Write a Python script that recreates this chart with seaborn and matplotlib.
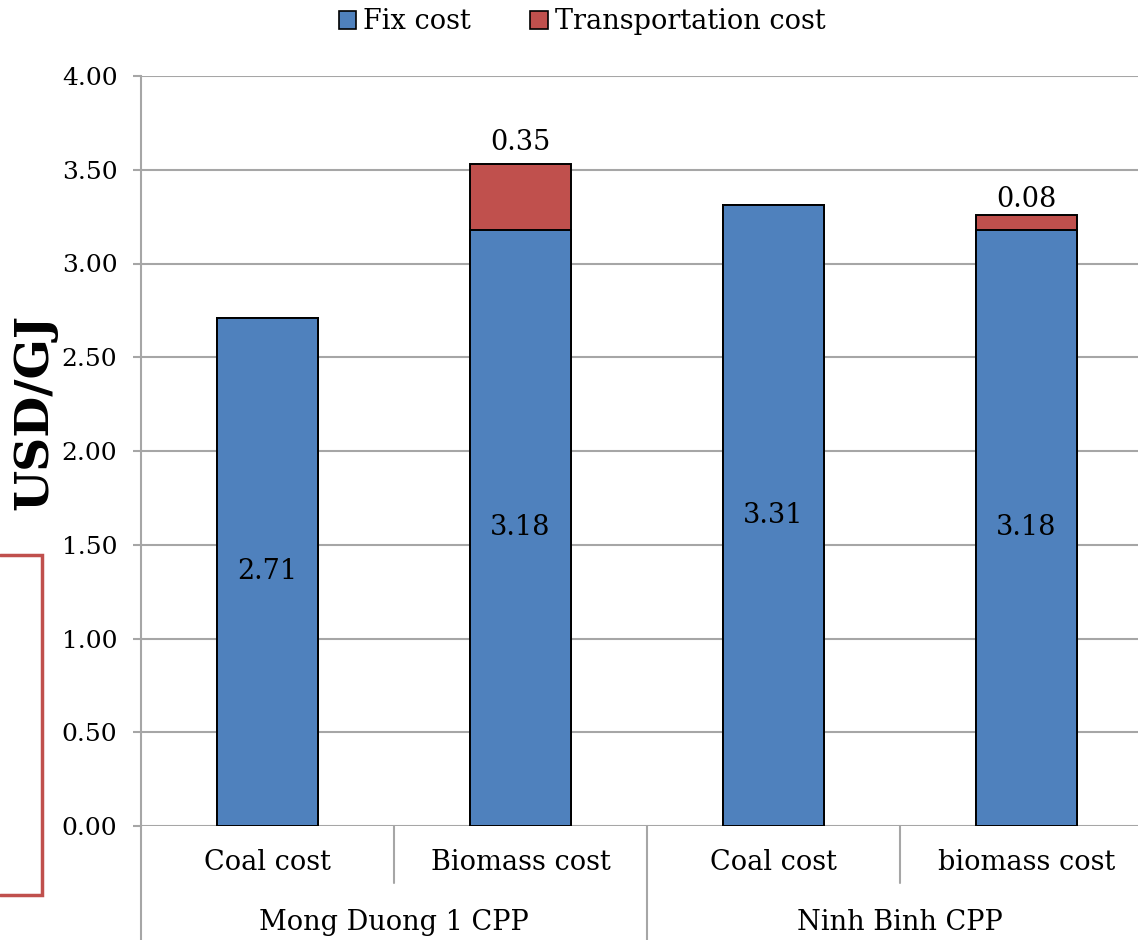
import matplotlib
matplotlib.use("Agg")
import matplotlib.pyplot as plt
from matplotlib.lines import Line2D
import pandas as pd
import seaborn as sns

# Cost breakdown per power plant and fuel (USD/GJ)
plants = ["Mong Duong 1 CPP", "Mong Duong 1 CPP", "Ninh Binh CPP", "Ninh Binh CPP"]
fuels = ["Coal cost", "Biomass cost", "Coal cost", "biomass cost"]
fix_cost = [2.71, 3.18, 3.31, 3.18]
transport_cost = [0.0, 0.35, 0.0, 0.08]
y_ticks = [0.0, 0.5, 1.0, 1.5, 2.0, 2.5, 3.0, 3.5, 4.0]

BLUE = "#4F81BD"
RED = "#C0504D"
GRID = "#A6A6A6"
FONT = "DejaVu Serif"

sns.set_theme(style="white")
plt.rcParams["font.family"] = [FONT]
plt.rcParams["text.color"] = "black"

df = pd.DataFrame({
    "bar": [f"{p} / {f}" for p, f in zip(plants, fuels)],
    "plant": plants,
    "fuel": fuels,
    "fix": fix_cost,
    "transport": transport_cost,
})
df["total"] = df["fix"] + df["transport"]

fig = plt.figure(figsize=(11.38, 9.40), dpi=100)
ax = fig.add_axes([141 / 1138, 114 / 940, 1012 / 1138, 750 / 940])

# Stacked bars: the full height in red, the fixed part drawn over it in blue
sns.barplot(data=df, x="bar", y="total", color=RED, width=0.4, saturation=1,
            edgecolor="black", linewidth=1.4, errorbar=None, ax=ax, zorder=3)
sns.barplot(data=df, x="bar", y="fix", color=BLUE, width=0.4, saturation=1,
            edgecolor="black", linewidth=1.4, errorbar=None, ax=ax, zorder=4)

ax.set_xlim(-0.5, 3.5)
ax.set_ylim(0, 4.0)
ax.set_yticks(y_ticks)
ax.set_yticklabels([f"{v:.2f}" for v in y_ticks], fontsize=18, color="black")
ax.set_xticks([])
ax.set_xlabel("")
ax.set_ylabel("")
ax.yaxis.grid(True, color=GRID, linewidth=1.5)
ax.set_axisbelow(True)
ax.tick_params(axis="y", length=6, width=1.5, color=GRID, pad=11, left=True)
for side in ["top", "right", "bottom"]:
    ax.spines[side].set_visible(False)
ax.spines["left"].set_color(GRID)
ax.spines["left"].set_linewidth(1.5)

# Value labels
label_pad = [0, 6, 0, 1]  # points above the bar top for the transport labels
for i, row in df.iterrows():
    ax.text(i, row["fix"] / 2, f"{row['fix']:.2f}", ha="center", va="center",
            fontsize=19.5, color="black", zorder=6)
    if row["transport"] > 0:
        ax.annotate(f"{row['transport']:.2f}", (i, row["total"]),
                    xytext=(0, label_pad[i]), textcoords="offset points",
                    ha="center", va="bottom", fontsize=19.5, color="black", zorder=6)

# Two-level category axis
trans = ax.get_xaxis_transform()
px = 1 / 750  # one pixel in axes-height units
short_sep = -57 * px
long_sep = -114 * px
seps = [(-0.5, long_sep), (0.5, short_sep), (1.5, long_sep), (2.5, short_sep)]
for xs, yb in seps:
    ax.add_line(Line2D([xs, xs], [0, yb], transform=trans, color=GRID,
                       linewidth=1.5, clip_on=False))

for i, f in enumerate(fuels):
    ax.text(i, -37 * px, f, transform=trans, ha="center", va="center",
            fontsize=19.5, color="black")

group_names = list(dict.fromkeys(plants))
for g in group_names:
    idx = [i for i, p in enumerate(plants) if p == g]
    ax.text(sum(idx) / len(idx), -97 * px, g, transform=trans, ha="center",
            va="center", fontsize=19.5, color="black")

# Axis title
fig.text(34 / 1138, 1 - 412 / 940, "USD/GJ", rotation=90, ha="center", va="center",
         fontsize=34, fontweight="bold", color="black")

# Legend
handles = [plt.Rectangle((0, 0), 1, 1, facecolor=BLUE, edgecolor="black", linewidth=1.2),
           plt.Rectangle((0, 0), 1, 1, facecolor=RED, edgecolor="black", linewidth=1.2)]
fig.legend(handles, ["Fix cost", "Transportation cost"], loc="upper center",
           bbox_to_anchor=(582 / 1138, 1.017), ncol=2, frameon=False, fontsize=19.5,
           labelcolor="black", handlelength=0.65, handleheight=0.65,
           handletextpad=0.25, columnspacing=2.2)

# Bracket marker on the left margin
fig.add_artist(Line2D([0, 42 / 1138, 42 / 1138, 0],
                      [1 - 555 / 940, 1 - 555 / 940, 1 - 895 / 940, 1 - 895 / 940],
                      transform=fig.transFigure, color=RED, linewidth=2.5,
                      solid_joinstyle="miter"))

fig.savefig("out.png", dpi=100)
